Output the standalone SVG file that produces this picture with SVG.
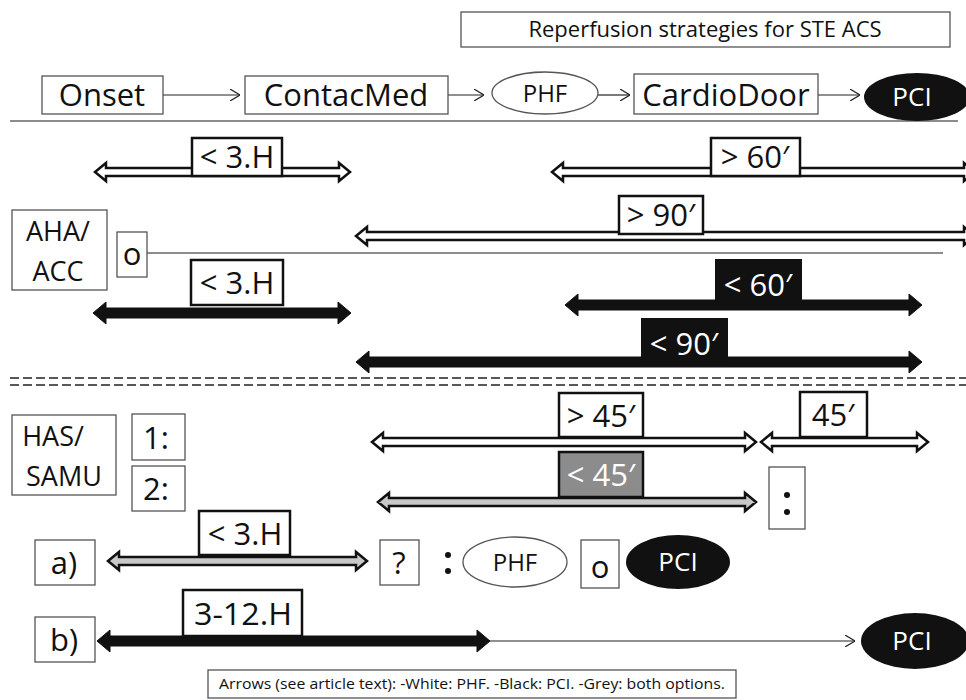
<svg xmlns="http://www.w3.org/2000/svg" width="966" height="700" viewBox="0 0 966 700">
<defs>
<style>
text{font-family:"Open Sans","DejaVu Sans",sans-serif;fill:#111;text-anchor:middle}
.node{fill:#fff;stroke:#555;stroke-width:1.3}
.lbl{fill:#fff;stroke:#111;stroke-width:2.5}
.lblk{fill:#111;stroke:#111;stroke-width:2}
.lblg{fill:#8c8c8c;stroke:#111;stroke-width:2.5}
.big{font-size:31px}
.two{font-size:27px}
.mid{font-size:24px}
.pci{font-size:26px}
.w{fill:#fff}
.harrow{fill:#fff;stroke:#111;stroke-width:2.5;stroke-linejoin:miter}
.barrow{fill:#111;stroke:#111;stroke-width:1}
.garrow{fill:#c8c8c8;stroke:#111;stroke-width:2.5}
.thin{fill:none;stroke:#222;stroke-width:1.2}
.sep{stroke:#666;stroke-width:1.3;fill:none}
.dash{stroke:#222;stroke-width:1.5;stroke-dasharray:9,4}
</style>
<marker id="chev" viewBox="0 0 10 12" refX="10" refY="6" markerWidth="10" markerHeight="12" markerUnits="userSpaceOnUse" orient="auto">
<path d="M0,0 L10,6 L0,12" fill="none" stroke="#222" stroke-width="1.2"/>
</marker>
</defs>

<g id="title">
<rect class="node" x="461" y="12" width="489" height="35"/>
<text x="705" y="37" style="font-size:22px">Reperfusion strategies for STE ACS</text>
</g>

<g id="separators">
<line class="sep" x1="10" y1="121" x2="958" y2="121"/>
<line class="sep" x1="147" y1="253" x2="943" y2="253"/>
<line class="dash" x1="10" y1="378" x2="966" y2="378"/>
<line class="dash" x1="10" y1="385" x2="966" y2="385"/>
</g>

<g id="connectors">
<line class="thin" x1="163" y1="95" x2="240" y2="95" marker-end="url(#chev)"/>
<line class="thin" x1="448" y1="95" x2="484" y2="95" marker-end="url(#chev)"/>
<line class="thin" x1="598" y1="95" x2="630" y2="95" marker-end="url(#chev)"/>
<line class="thin" x1="818" y1="95" x2="860" y2="95" marker-end="url(#chev)"/>
<line class="thin" x1="490" y1="641" x2="855" y2="641" marker-end="url(#chev)"/>
<path class="harrow" d="M95,172 L106,163 L106,168 L339,168 L339,163 L350,172 L339,181 L339,176 L106,176 L106,181 Z"/>
<path class="harrow" d="M552,172 L563,163 L563,168 L964,168 L964,163 L975,172 L964,181 L964,176 L563,176 L563,181 Z"/>
<path class="harrow" d="M356,236 L367,227 L367,232 L964,232 L964,227 L975,236 L964,245 L964,240 L367,240 L367,245 Z"/>
<path class="harrow" d="M372,442 L383,433 L383,438 L745,438 L745,433 L756,442 L745,451 L745,446 L383,446 L383,451 Z"/>
<path class="harrow" d="M761,442 L772,433 L772,438 L917,438 L917,433 L928,442 L917,451 L917,446 L772,446 L772,451 Z"/>
<path class="barrow" d="M93,313 L106,302 L106,308 L338,308 L338,302 L351,313 L338,324 L338,318 L106,318 L106,324 Z"/>
<path class="barrow" d="M565,305 L578,294 L578,300 L909,300 L909,294 L922,305 L909,316 L909,310 L578,310 L578,316 Z"/>
<path class="barrow" d="M356,362 L369,351 L369,357 L909,357 L909,351 L922,362 L909,373 L909,367 L369,367 L369,373 Z"/>
<path class="barrow" d="M97,641 L110,630 L110,636 L477,636 L477,630 L490,641 L477,652 L477,646 L110,646 L110,652 Z"/>
<path class="garrow" d="M378,502 L389,493 L389,498 L745,498 L745,493 L756,502 L745,511 L745,506 L389,506 L389,511 Z"/>
<path class="garrow" d="M108,561 L119,552 L119,557 L356,557 L356,552 L367,561 L356,570 L356,565 L119,565 L119,570 Z"/>
</g>

<g id="onset"><rect class="node" x="42" y="76" width="121" height="38"/><text class="big" x="102" y="106">Onset</text></g>
<g id="contacmed"><rect class="node" x="245" y="76" width="203" height="38"/><text class="big" x="346" y="106">ContacMed</text></g>
<g id="phf1"><ellipse class="node" cx="545" cy="93" rx="53" ry="21"/><text class="mid" x="545" y="102">PHF</text></g>
<g id="cardiodoor"><rect class="node" x="634" y="74" width="184" height="40"/><text class="big" x="726" y="106">CardioDoor</text></g>
<g id="pci1"><ellipse cx="917" cy="97" rx="53" ry="24" fill="#111"/><text class="pci w" x="912" y="106">PCI</text></g>

<g id="lbl-3h-white"><rect class="lbl" x="192" y="138" width="90" height="38"/><text class="big" x="237" y="168">&lt; 3.H</text></g>
<g id="lbl-60-white"><rect class="lbl" x="711" y="138" width="89" height="38"/><text class="big" x="755" y="168">&gt; 60′</text></g>
<g id="lbl-90-white"><rect class="lbl" x="619" y="196" width="84" height="38"/><text class="big" x="661" y="226">&gt; 90′</text></g>

<g id="aha-acc"><rect class="node" x="12" y="210" width="95" height="80"/><text class="two" x="58" y="241">AHA/</text><text class="two" x="58" y="281">ACC</text></g>
<g id="or1"><rect class="node" x="117" y="232" width="30" height="45"/><text class="big" x="132" y="265">o</text></g>

<g id="lbl-3h-black"><rect class="lbl" x="191" y="260" width="92" height="45"/><text class="big" x="237" y="294">&lt; 3.H</text></g>
<g id="lbl-60-black"><rect class="lblk" x="716" y="260" width="85" height="47"/><text class="big w" x="758" y="296">&lt; 60′</text></g>
<g id="lbl-90-black"><rect class="lblk" x="642" y="319" width="85" height="47"/><text class="big w" x="684" y="355">&lt; 90′</text></g>

<g id="has-samu"><rect class="node" x="12" y="415" width="104" height="80"/><text class="two" x="53" y="446">HAS/</text><text class="two" x="64" y="486">SAMU</text></g>
<g id="opt1"><rect class="node" x="132" y="414" width="53" height="46"/><text class="big" x="156" y="449">1:</text></g>
<g id="opt2"><rect class="node" x="132" y="466" width="53" height="45"/><text class="big" x="156" y="500">2:</text></g>

<g id="lbl-45-white"><rect class="lbl" x="559" y="393" width="84" height="44"/><text class="big" x="601" y="427">&gt; 45′</text></g>
<g id="lbl-45"><rect class="lbl" x="800" y="392" width="67" height="45"/><text class="big" x="833" y="426">45′</text></g>
<g id="lbl-45-grey"><rect class="lblg" x="559" y="452" width="84" height="45"/><text class="big w" x="601" y="486">&lt; 45′</text></g>
<g id="colon-box"><rect class="node" x="769" y="467" width="36" height="62"/><circle cx="787" cy="495" r="3" fill="#111"/><circle cx="787" cy="512" r="3" fill="#111"/></g>

<g id="a"><rect class="node" x="35" y="540" width="60" height="45"/><text class="big" x="64" y="574">a)</text></g>
<g id="lbl-3h-grey"><rect class="lbl" x="199" y="511" width="91" height="44"/><text class="big" x="245" y="545">&lt; 3.H</text></g>
<g id="q"><rect class="node" x="380" y="540" width="39" height="45"/><text class="big" x="399" y="574">?</text></g>
<g id="colon2"><circle cx="448" cy="555" r="3" fill="#111"/><circle cx="448" cy="571" r="3" fill="#111"/></g>
<g id="phf2"><ellipse class="node" cx="515" cy="562" rx="52" ry="25"/><text class="mid" x="515" y="571">PHF</text></g>
<g id="or2"><rect class="node" x="581" y="540" width="38" height="48"/><text class="big" x="600" y="578">o</text></g>
<g id="pci2"><ellipse cx="678" cy="562" rx="52" ry="27" fill="#111"/><text class="pci w" x="678" y="571">PCI</text></g>

<g id="b"><rect class="node" x="35" y="617" width="60" height="45"/><text class="big" x="64" y="651">b)</text></g>
<g id="lbl-3-12h"><rect class="lbl" x="183" y="590" width="119" height="46"/><text class="big" x="243" y="625" textLength="98" lengthAdjust="spacingAndGlyphs">3-12.H</text></g>
<g id="pci3"><ellipse cx="915" cy="641" rx="54" ry="28" fill="#111"/><text class="pci w" x="912" y="650">PCI</text></g>

<g id="legend"><rect class="node" x="208" y="670" width="528" height="28"/><text x="472" y="689" style="font-size:14px" textLength="506" lengthAdjust="spacingAndGlyphs">Arrows (see article text): -White: PHF. -Black: PCI. -Grey: both options.</text></g>
</svg>
